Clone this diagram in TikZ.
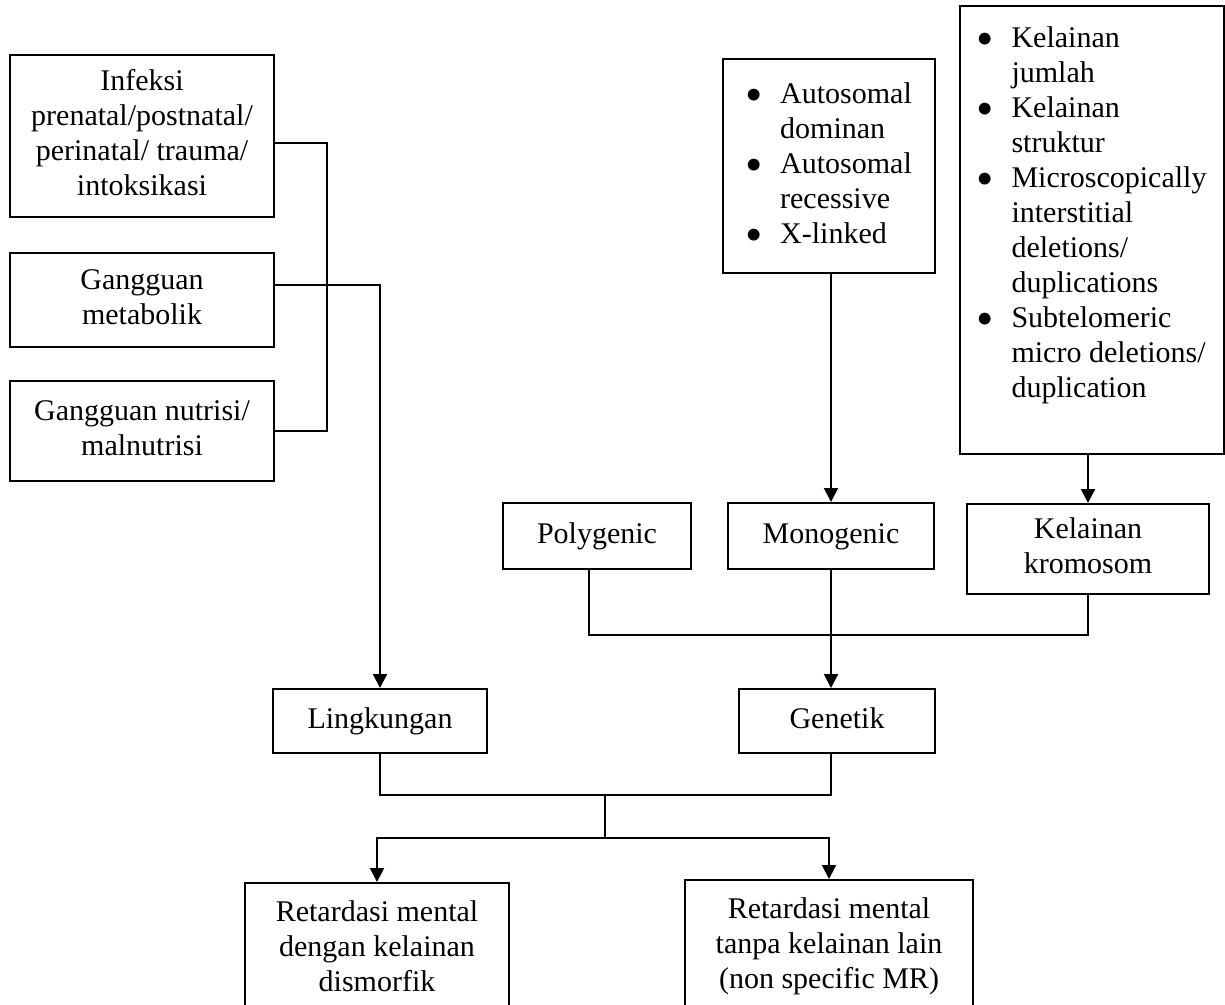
\documentclass[tikz,border=0pt]{standalone}
\usepackage{fontspec}
\setmainfont{Liberation Serif}
\usetikzlibrary{arrows.meta}
\newcommand\tl[1]{\begin{tabular}{@{}c@{}}#1\end{tabular}}
\newcommand\bl[1]{\begin{tabular}{@{}l@{}l@{}}#1\end{tabular}}
\newcommand\bu{\makebox[34pt][l]{\kern-1pt\raisebox{-8.5pt}{\scalebox{1.65}{\textbullet}}}}
\tikzset{
  box/.style={draw, line width=2pt, inner sep=0pt, rectangle, align=center,
    font=\fontsize{30pt}{35pt}\selectfont},
  conn/.style={line width=2pt},
  arr/.style={conn, -{Triangle[width=14pt,length=14pt]}}
}
\begin{document}
\begin{tikzpicture}[x=1pt,y=-1pt]
\useasboundingbox (0,0) rectangle (1225,1004);
\clip (0,0) rectangle (1225,1004);
\fill[white] (0,0) rectangle (1225,1004);
% left column
\node[box, minimum width=264pt, minimum height=162pt] (inf) at (142,136)
  {\tl{Infeksi\\prenatal/postnatal/\\perinatal/ trauma/\\intoksikasi}};
\node[box, minimum width=264pt, minimum height=94pt] (met) at (142,300)
  {\tl{Gangguan\\metabolik}};
\node[box, minimum width=264pt, minimum height=100pt] (nut) at (142,431)
  {\tl{Gangguan nutrisi/\\malnutrisi}};
% top right lists
\node[box, minimum width=212pt, minimum height=214pt] (auto) at (829,166)
  {\bl{\bu & Autosomal\\ & dominan\\ \bu & Autosomal\\ & recessive\\ \bu & X-linked}};
\node[box, minimum width=264pt, minimum height=448pt] (big) at (1092,230)
  {\bl{\bu & Kelainan\\ & jumlah\\ \bu & Kelainan\\ & struktur\\ \bu & Microscopically\\ & interstitial\\ & deletions/\\ & duplications\\ \bu & Subtelomeric\\ & micro deletions/\\ & duplication\\[30pt]}};
% middle row
\node[box, minimum width=188pt, minimum height=66pt] (poly) at (597,536) {\tl{Polygenic}};
\node[box, minimum width=206pt, minimum height=66pt] (mono) at (831,536) {\tl{Monogenic}};
\node[box, minimum width=242pt, minimum height=90pt] (krom) at (1088,549) {\tl{Kelainan\\kromosom}};
\node[box, minimum width=214pt, minimum height=64pt] (lin) at (380,721) {\tl{Lingkungan}};
\node[box, minimum width=196pt, minimum height=64pt] (gen) at (837,721) {\tl{Genetik}};
% bottom boxes (cut by the lower edge)
\node[box, minimum width=264pt, inner ysep=13.5pt, anchor=north] (ret1) at (377,882)
  {\tl{Retardasi mental\\dengan kelainan\\dismorfik\\[60pt]}};
\node[box, minimum width=288pt, inner ysep=13.5pt, anchor=north] (ret2) at (829,879)
  {\tl{Retardasi mental\\tanpa kelainan lain\\(non specific MR)\\[60pt]}};
% connectors: left group
\coordinate (ja) at (327,143);
\coordinate (jb) at (327,432);
\coordinate (jc) at (327,431);
\draw[conn] (inf.east |- ja) -- (ja) -- (jb);
\draw[conn] (nut.east |- jc) -- (jc);
\coordinate (mk) at (380,285);
\draw[arr] (met.east |- mk) -- (mk) -- (lin.north);
% genetic group
\draw[arr] (auto.south -| mono.north) -- (mono.north);
\draw[arr] (big.south -| krom.north) -- (krom.north);
\coordinate (pj) at (589,635);
\draw[conn] (poly.south -| pj) -- (pj) -- (pj -| krom.south) -- (krom.south);
\draw[arr] (mono.south) -- (mono.south |- gen.north);
% bottom junction
\coordinate (lj) at (380,795);
\draw[conn] (lin.south) -- (lj) -- (lj -| mono.south) -- (mono.south |- gen.south);
\coordinate (mj) at (605,795);
\coordinate (mb) at (605,838);
\draw[conn] (mj) -- (mb);
\draw[arr] (mb) -| (ret1.north);
\draw[arr] (mb) -| (ret2.north);
\end{tikzpicture}
\end{document}
